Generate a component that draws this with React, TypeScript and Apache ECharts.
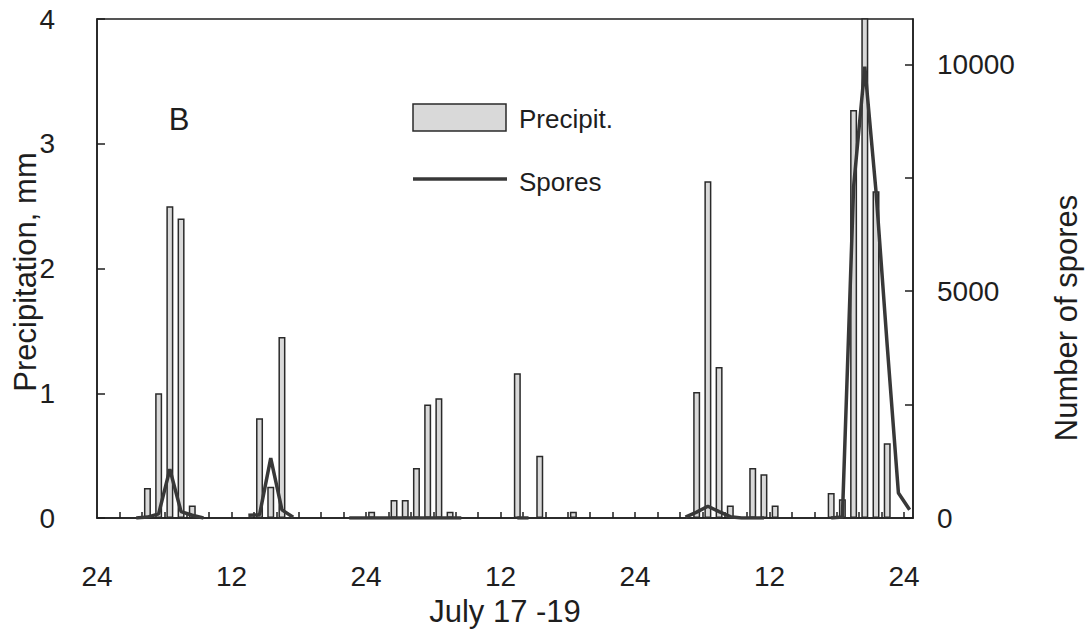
import React, { useEffect, useRef } from "react";
import * as echarts from "echarts";

// Precipitation bars (hour of the 72 h period, bar centred on the half hour)
const precipHours = [
  4.5, 5.5, 6.5, 7.5, 8.5, 14.5, 15.5, 16.5, 24.5, 26.5, 27.5, 28.5, 29.5, 30.5,
  31.5, 37.5, 39.5, 42.5, 53.5, 54.5, 55.5, 56.5, 58.5, 59.5, 60.5, 65.5, 66.5,
  67.5, 68.5, 69.5, 70.5,
];
const precip = [
  0.24, 1.0, 2.5, 2.4, 0.1, 0.8, 0.25, 1.45, 0.05, 0.145, 0.145, 0.4, 0.91, 0.96,
  0.05, 1.16, 0.5, 0.05, 1.01, 2.7, 1.21, 0.1, 0.4, 0.35, 0.1, 0.2, 0.15, 3.27,
  4.3, 2.62, 0.6,
];

// Spore counts (null = no sample, gap in the line)
const sporeHours = [
  3.5, 4.5, 5.5, 6.5, 7.5, 8.5, 9.5, 11,
  13.5, 14.5, 15.5, 16.5, 17.5, 20,
  22.5, 23.5, 24.5, 25.5, 26.5, 27.5, 28.5, 29.5, 30.5, 31.5, 32.5, 35,
  37.5, 38.5, 45,
  52.5, 53.5, 54.5, 55.5, 56.5, 57.5, 58.5, 59.5, 62,
  65.5, 66.5, 67.5, 68.5, 69.5, 70.5, 71.5, 72.5,
];
const spores: (number | null)[] = [
  0, 20, 90, 1075, 140, 60, 0, null,
  60, 70, 1320, 180, 15, null,
  0, 0, 0, 0, 0, 0, 0, 0, 0, 0, 0, null,
  0, 0, null,
  20, 130, 260, 140, 30, 0, 0, 0, null,
  0, 20, 7300, 9950, 7200, 3800, 550, 180,
];

const xLabelValues = [0, 12, 24, 36, 48, 60, 72];
const xTickValues = [2, 4, 6, 8, 10, 12, 14, 16, 18, 20, 22, 24, 26, 28, 30, 32, 34, 36, 38, 40, 42, 44, 46, 48, 50, 52, 54, 56, 58, 60, 62, 64, 66, 68, 70, 72];
const leftTicks = [0, 1, 2, 3, 4];
const rightLabelValues = [0, 5000, 10000];
const rightTickValues = [0, 2500, 5000, 7500, 10000];
const legendNames = ["Precipit.", "Spores"];

const FONT = '"Liberation Sans", Arial, Helvetica, sans-serif';
const INK = "#1e1e1e";
const BAR_FILL = "#d9d9d9";
const BAR_EDGE = "#2a2a2a";
const LINE_COLOR = "#383838";

export default function App() {
  const ref = useRef<HTMLDivElement>(null);
  useEffect(() => {
    if (!ref.current) return;
    const chart = echarts.init(ref.current, undefined, { renderer: "svg" });
    const option: any = {
      animation: false,
      backgroundColor: "#ffffff",
      textStyle: { fontFamily: FONT },
      grid: {
        left: 97,
        top: 19,
        right: 1087 - 913,
        bottom: 641 - 518,
        show: true,
        borderColor: INK,
        borderWidth: 1.5,
        backgroundColor: "transparent",
      },
      xAxis: {
        type: "value",
        min: 0,
        max: 72.8,
        axisLine: { show: true, lineStyle: { color: INK, width: 1.5 } },
        axisTick: {
          show: true,
          inside: true,
          length: 6,
          customValues: xTickValues,
          lineStyle: { color: INK, width: 1.5 },
        },
        axisLabel: {
          customValues: xLabelValues,
          formatter: (v: number) => (v % 24 === 0 ? "24" : "12"),
          fontSize: 28,
          color: INK,
          margin: 44,
          fontFamily: FONT,
        },
        splitLine: { show: false },
        name: "July 17 -19",
        nameLocation: "middle",
        nameGap: 78,
        nameTextStyle: { fontSize: 31, color: INK, fontFamily: FONT },
      },
      yAxis: [
        {
          type: "value",
          min: 0,
          max: 4,
          interval: 1,
          axisLine: { show: true, lineStyle: { color: INK, width: 1.5 } },
          axisTick: {
            show: true,
            inside: true,
            length: 8,
            customValues: leftTicks,
            lineStyle: { color: INK, width: 1.5 },
          },
          axisLabel: {
            customValues: leftTicks,
            fontSize: 28,
            color: INK,
            margin: 42,
            fontFamily: FONT,
          },
          splitLine: { show: false },
        },
        {
          type: "value",
          min: 0,
          max: 11000,
          position: "right",
          axisLine: { show: true, lineStyle: { color: INK, width: 1.5 } },
          axisTick: {
            show: true,
            inside: true,
            length: 8,
            customValues: rightTickValues,
            lineStyle: { color: INK, width: 1.5 },
          },
          axisLabel: {
            customValues: rightLabelValues,
            formatter: (v: number) => String(v),
            fontSize: 28,
            color: INK,
            margin: 24,
            fontFamily: FONT,
          },
          splitLine: { show: false },
        },
      ],
      graphic: [
        {
          type: "text",
          x: 179,
          y: 119,
          style: { text: "B", font: `31px ${FONT}`, fill: INK, align: "center", verticalAlign: "middle" },
        },
        {
          type: "text",
          x: 25,
          y: 272,
          rotation: Math.PI / 2,
          style: { text: "Precipitation, mm", font: `31px ${FONT}`, fill: INK, align: "center", verticalAlign: "middle" },
        },
        {
          type: "text",
          x: 1066,
          y: 318,
          rotation: Math.PI / 2,
          style: { text: "Number of spores", font: `31px ${FONT}`, fill: INK, align: "center", verticalAlign: "middle" },
        },
        // legend
        {
          type: "rect",
          shape: { x: 413, y: 104, width: 93, height: 27 },
          style: { fill: BAR_FILL, stroke: BAR_EDGE, lineWidth: 1.5 },
        },
        {
          type: "text",
          x: 519,
          y: 119,
          style: { text: legendNames[0], font: `26px ${FONT}`, fill: INK, align: "left", verticalAlign: "middle" },
        },
        {
          type: "line",
          shape: { x1: 413, y1: 179, x2: 507, y2: 179 },
          style: { stroke: LINE_COLOR, lineWidth: 3.5 },
        },
        {
          type: "text",
          x: 519,
          y: 182,
          style: { text: legendNames[1], font: `26px ${FONT}`, fill: INK, align: "left", verticalAlign: "middle" },
        },
      ],
      series: [
        {
          name: legendNames[0],
          type: "bar",
          xAxisIndex: 0,
          yAxisIndex: 0,
          barWidth: 7,
          itemStyle: { color: BAR_FILL, borderColor: BAR_EDGE, borderWidth: 1.5 },
          data: precipHours.map((h, i) => [h, precip[i]]),
          z: 2,
        },
        {
          name: legendNames[1],
          type: "line",
          xAxisIndex: 0,
          yAxisIndex: 1,
          symbol: "none",
          connectNulls: false,
          lineStyle: { color: LINE_COLOR, width: 3.5 },
          itemStyle: { color: LINE_COLOR },
          data: sporeHours.map((h, i) => [h, spores[i] === null ? "-" : spores[i]]),
          z: 3,
        },
      ],
    };
    chart.setOption(option);
    return () => chart.dispose();
  }, []);
  return (
    <div
      ref={ref}
      style={{ position: "fixed", left: 0, top: 0, width: 1087, height: 641, background: "#fff" }}
    />
  );
}
